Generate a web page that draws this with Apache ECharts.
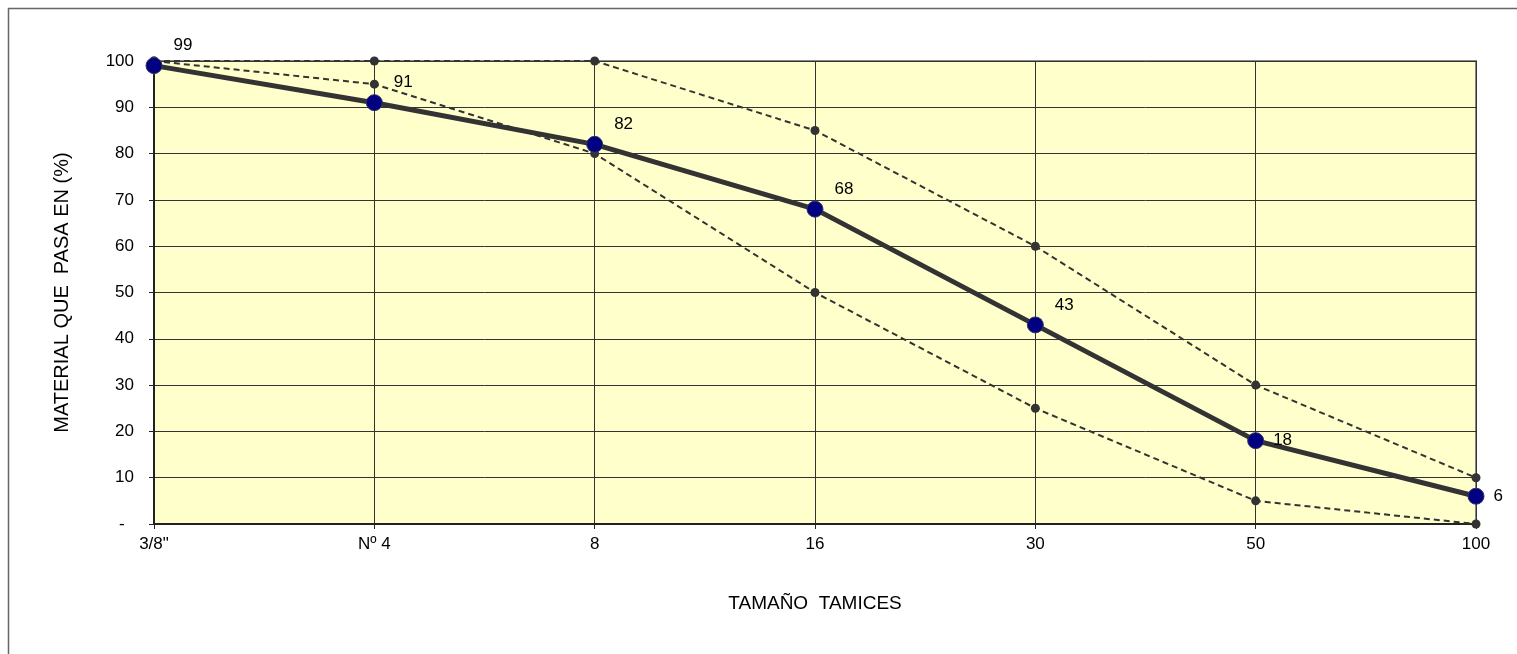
<!DOCTYPE html>
<html>
<head>
<meta charset="utf-8">
<script src="https://cdn.jsdelivr.net/npm/echarts@6/dist/echarts.min.js"></script>
<style>html,body{margin:0;padding:0;background:#fff;}#c{width:1517px;height:654px;}</style>
</head>
<body>
<div id="c"></div>
<script>
var categories = ['3/8"', 'Nº 4', '8', '16', '30', '50', '100'];
var pasaValues = [99, 91, 82, 68, 43, 18, 6];
var limiteSuperior = [100, 100, 100, 85, 60, 30, 10];
var limiteInferior = [100, 95, 80, 50, 25, 5, 0];
var yTicks = [0, 10, 20, 30, 40, 50, 60, 70, 80, 90, 100];

var FONT = 'Liberation Sans, Arial, sans-serif';
var chart = echarts.init(document.getElementById('c'), null, {renderer: 'canvas'});

var pasaData = pasaValues.map(function (v, i) {
  var item = {value: v};
  if (i >= pasaValues.length - 2) {
    item.label = {offset: [4, 0]};
  }
  return item;
});

function limitSeries(name, data) {
  return {
    name: name,
    type: 'line',
    data: data,
    symbol: 'circle',
    symbolSize: 9,
    z: 2,
    lineStyle: {color: '#333333', width: 2, type: [6, 4]},
    itemStyle: {color: '#333333'},
    label: {show: false},
    animation: false
  };
}

chart.setOption({
  animation: false,
  backgroundColor: '#ffffff',
  graphic: [{
    type: 'rect',
    shape: {x: 8.5, y: 8.5, width: 1600, height: 800},
    style: {fill: null, stroke: '#666666', lineWidth: 1.5},
    silent: true, z: -10
  }],
  grid: {
    left: 154, top: 61, width: 1322, height: 463,
    show: true, backgroundColor: '#FFFFCC', borderColor: '#888888', borderWidth: 2
  },
  xAxis: {
    type: 'category',
    data: categories,
    boundaryGap: false,
    name: 'TAMAÑO  TAMICES',
    nameLocation: 'middle',
    nameGap: 70,
    nameTextStyle: {color: '#000', fontSize: 19, fontFamily: FONT},
    axisLine: {show: true, lineStyle: {color: '#222', width: 2}},
    axisTick: {show: true, inside: false, length: 5, alignWithLabel: true, lineStyle: {color: '#222', width: 1}},
    axisLabel: {color: '#000', fontSize: 17, fontFamily: FONT, margin: 12},
    splitLine: {show: true, lineStyle: {color: '#333', width: 1}}
  },
  yAxis: {
    type: 'value',
    min: 0, max: 100, interval: 10,
    name: 'MATERIAL QUE  PASA EN (%)',
    nameLocation: 'middle',
    nameGap: 82,
    nameRotate: 90,
    nameTextStyle: {color: '#000', fontSize: 20, fontFamily: FONT},
    axisLine: {show: true, lineStyle: {color: '#222', width: 2}},
    axisTick: {show: true, inside: false, length: 5, lineStyle: {color: '#222', width: 1}},
    axisLabel: {
      color: '#000', fontSize: 17, fontFamily: FONT, margin: 20,
      formatter: function (v) { return yTicks.indexOf(v) === 0 ? '-  ' : String(v); }
    },
    splitLine: {show: true, lineStyle: {color: '#333', width: 1}}
  },
  series: [
    limitSeries('Límite superior', limiteSuperior),
    limitSeries('Límite inferior', limiteInferior),
    {
      name: 'Material que pasa',
      type: 'line',
      data: pasaData,
      symbol: 'circle',
      symbolSize: 16,
      z: 5,
      lineStyle: {color: '#333333', width: 5},
      itemStyle: {color: '#000080', borderColor: '#333366', borderWidth: 1},
      label: {
        show: true, position: 'right', offset: [6, -20],
        color: '#000', fontSize: 17, fontFamily: FONT
      }
    }
  ]
});
</script>
</body>
</html>
